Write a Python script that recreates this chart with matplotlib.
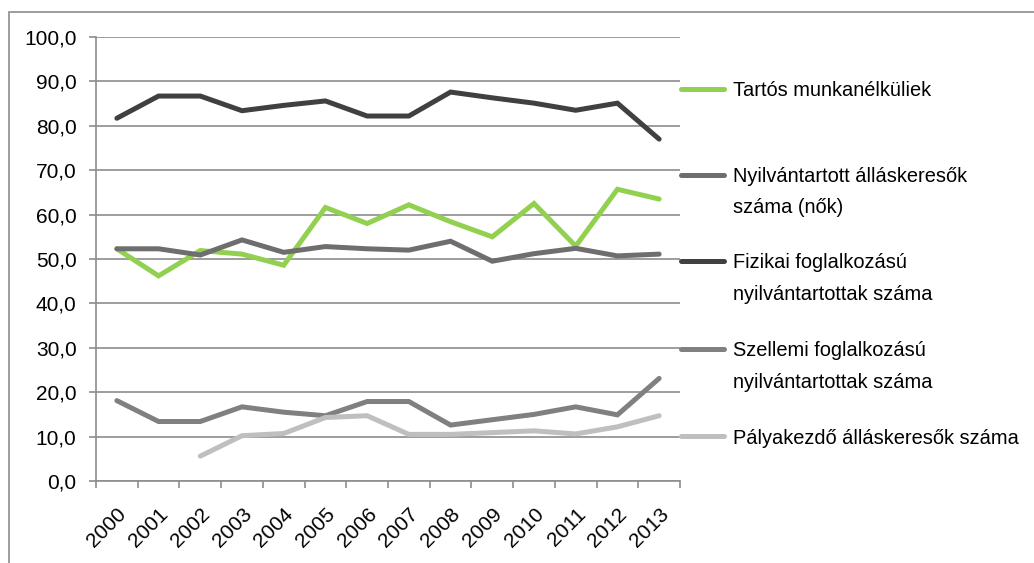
import matplotlib.pyplot as plt
import numpy as np
from matplotlib.patches import Rectangle
from matplotlib.lines import Line2D

# years and series values (%)
years = [str(y) for y in range(2000, 2014)]
tartos = [52.3, 46.2, 51.9, 51.1, 48.6, 61.6, 58.0, 62.2, 58.4, 55.0, 62.5, 52.9, 65.7, 63.5]
nyilv_nok = [52.3, 52.3, 50.9, 54.3, 51.5, 52.8, 52.3, 52.0, 54.0, 49.5, 51.2, 52.4, 50.7, 51.1]
fizikai = [81.7, 86.7, 86.7, 83.4, 84.6, 85.6, 82.2, 82.2, 87.6, 86.3, 85.1, 83.5, 85.1, 77.0]
szellemi = [18.1, 13.4, 13.4, 16.7, 15.5, 14.7, 17.9, 17.9, 12.6, 13.8, 15.0, 16.7, 14.9, 23.1]
palyakezdo = [np.nan, np.nan, 5.6, 10.2, 10.7, 14.3, 14.7, 10.5, 10.5, 10.9, 11.3, 10.6, 12.2, 14.7]

series = [
    ("Tartós munkanélküliek", tartos, "#92D050"),
    ("Nyilvántartott álláskeresők\nszáma (nők)", nyilv_nok, "#6E6E6E"),
    ("Fizikai foglalkozású\nnyilvántartottak száma", fizikai, "#404040"),
    ("Szellemi foglalkozású\nnyilvántartottak száma", szellemi, "#808080"),
    ("Pályakezdő álláskeresők száma", palyakezdo, "#BFBFBF"),
]

plt.rcParams['font.family'] = ['Liberation Sans', 'DejaVu Sans']
fontsize = 15
grid_col = "#8C8C8C"

W, H = 1034, 563
fig = plt.figure(figsize=(W / 100, H / 100), dpi=100)
ax = fig.add_axes([96 / W, 1 - 481 / H, (680 - 96) / W, (481 - 37) / H])

x = np.arange(len(years))
for label, vals, col in series:
    ax.plot(x, vals, color=col, lw=3.6, solid_capstyle='round', solid_joinstyle='miter', zorder=3)

ax.set_xlim(-0.5, len(years) - 0.5)
ax.set_ylim(0, 100)
yt = np.arange(0, 101, 10)
ax.set_yticks(yt)
ax.set_yticklabels([f"{v:.1f}".replace('.', ',') for v in yt], fontsize=fontsize)
ax.set_xticks(x)
ax.set_xticklabels(years, fontsize=fontsize, rotation=45, ha='right', va='top', rotation_mode='anchor')
ax.set_xticks(np.arange(-0.5, len(years), 1), minor=True)
ax.tick_params(axis='x', which='major', length=0, pad=17)
ax.tick_params(axis='x', which='minor', length=5, width=1.2, color=grid_col)
ax.tick_params(axis='y', length=5, width=1.2, color=grid_col, pad=9)
ax.yaxis.grid(True, color=grid_col, lw=1.2)
ax.set_axisbelow(True)
for s in ['top', 'right']:
    ax.spines[s].set_visible(False)
for s in ['left', 'bottom']:
    ax.spines[s].set_color(grid_col)
    ax.spines[s].set_linewidth(1.2)

# legend drawn by hand, handle aligned with first text line
leg_y = [89, 175, 261, 349, 436]
line_gap = 31
for (label, vals, col), yy in zip(series, leg_y):
    fy = 1 - yy / H
    fig.add_artist(Line2D([681 / W, 724 / W], [fy, fy], color=col, lw=3.6, solid_capstyle='round'))
    for i, part in enumerate(label.split("\n")):
        fig.text(733 / W, 1 - (yy + 2 + i * line_gap) / H, part, fontsize=fontsize - 0.6,
                 va='center', ha='left')

# outer chart border (cropped on right and bottom)
fig.add_artist(Rectangle((9 / W, -0.1), 1.2, 1 - 12 / H + 0.1, transform=fig.transFigure,
                         fill=False, edgecolor=grid_col, lw=1.2))

fig.savefig("out.png", dpi=100)
